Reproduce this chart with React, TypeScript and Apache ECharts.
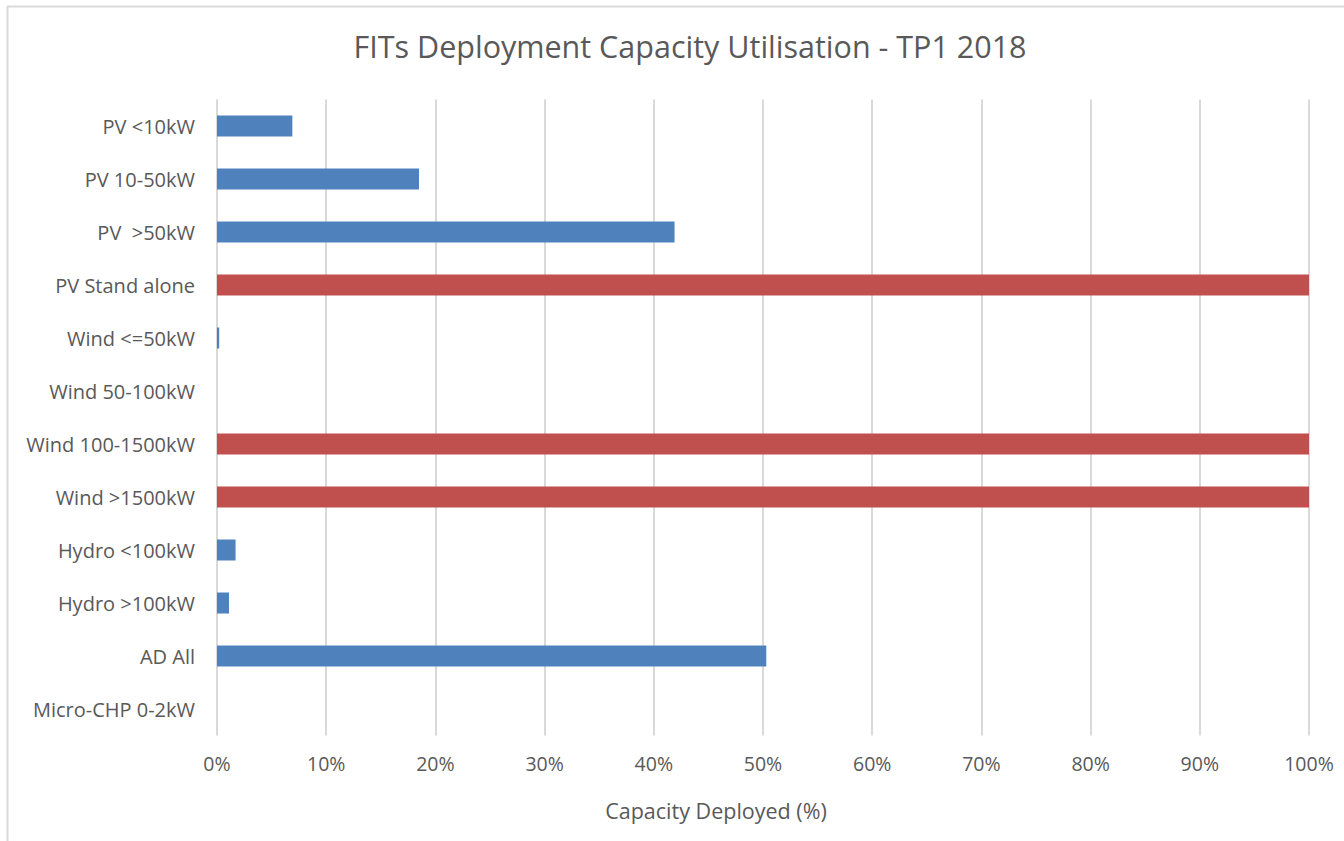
import React, { useEffect, useRef } from "react";
import * as echarts from "echarts";

const categories = [
  "PV <10kW",
  "PV 10-50kW",
  "PV  >50kW",
  "PV Stand alone",
  "Wind <=50kW",
  "Wind 50-100kW",
  "Wind 100-1500kW",
  "Wind >1500kW",
  "Hydro <100kW",
  "Hydro >100kW",
  "AD All",
  "Micro-CHP 0-2kW",
];
const deployed = [6.9, 18.5, 41.9, 100, 0.2, 0, 100, 100, 1.7, 1.1, 50.3, 0];
const xTicks = [0, 10, 20, 30, 40, 50, 60, 70, 80, 90, 100];

const FONT = "'Open Sans', 'Noto Sans', sans-serif";
const TXT = "#595959";

export default function App() {
  const ref = useRef<HTMLDivElement>(null);
  useEffect(() => {
    if (!ref.current) return;
    const chart = echarts.init(ref.current, undefined, { renderer: "svg" });
    chart.setOption({
      animation: false,
      backgroundColor: "#ffffff",
      title: [
        {
          text: "FITs Deployment Capacity Utilisation - TP1 2018",
          left: 685,
          top: 25,
          textAlign: "center",
          textStyle: { fontFamily: FONT, fontSize: 30.5, fontWeight: "normal", color: TXT },
        },
        {
          text: "Capacity Deployed (%)",
          left: 711,
          top: 794,
          textAlign: "center",
          textStyle: { fontFamily: FONT, fontSize: 21.5, fontWeight: "normal", color: TXT },
        },
      ],
      graphic: [
        { type: "line", shape: { x1: 7.5, y1: 6, x2: 7.5, y2: 841 }, style: { stroke: "#d9d9d9", lineWidth: 2 } },
        { type: "line", shape: { x1: 7, y1: 6.5, x2: 1344, y2: 6.5 }, style: { stroke: "#d9d9d9", lineWidth: 2 } },
      ],
      grid: { left: 217, right: 35, top: 99.5, bottom: 105.5, containLabel: false },
      xAxis: {
        type: "value",
        min: xTicks[0],
        max: xTicks[xTicks.length - 1],
        interval: 10,
        axisLine: { show: false },
        axisTick: { show: false },
        splitLine: { show: true, lineStyle: { color: "#d9d9d9", width: 2 } },
        axisLabel: {
          formatter: (v: number) => `${v}%`,
          fontFamily: FONT,
          fontSize: 19.5,
          color: TXT,
          margin: 18,
        },
      },
      yAxis: {
        type: "category",
        data: categories,
        inverse: true,
        axisLine: { show: false },
        axisTick: { show: false },
        splitLine: { show: false },
        axisLabel: {
          fontFamily: FONT,
          fontSize: 20,
          color: TXT,
          margin: 22,
          padding: [0, 0, 2, 0],
        },
      },
      series: [
        {
          type: "bar",
          data: deployed.map((v) => ({
            value: v,
            itemStyle: { color: v >= 100 ? "#C0504D" : "#4F81BD" },
          })),
          barWidth: 21,
        },
      ],
    });
    return () => chart.dispose();
  }, []);
  return (
    <div
      ref={ref}
      style={{ position: "fixed", left: 0, top: 0, width: 1344, height: 841 }}
    />
  );
}
